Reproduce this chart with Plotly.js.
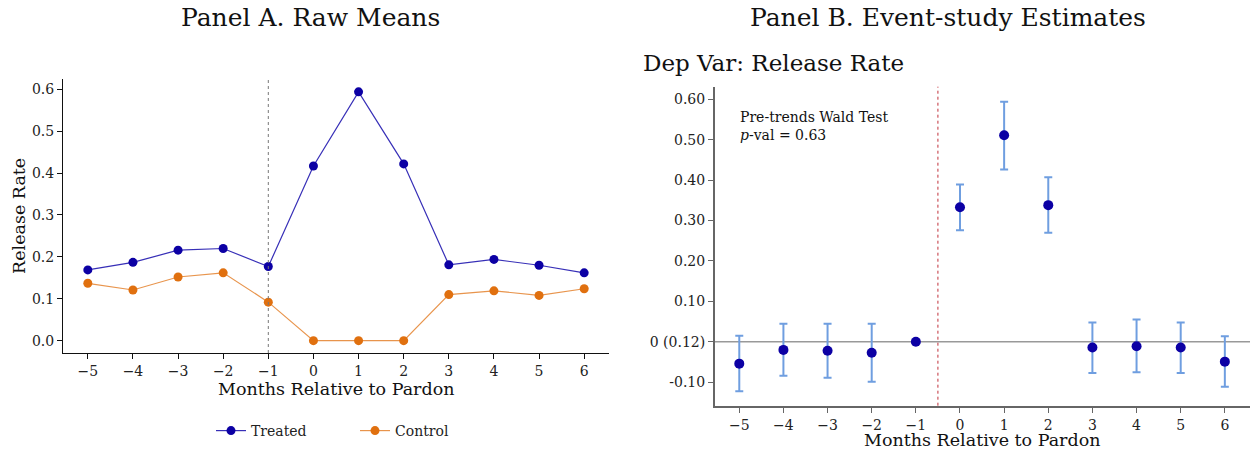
<!DOCTYPE html>
<html><head><meta charset="utf-8">
<script src="https://cdn.plot.ly/plotly-3.0.1.min.js"></script>
<style>body{margin:0;background:#fff}#c{width:1257px;height:453px}</style>
</head><body><div id="c"></div>
<script>
const months = [-5,-4,-3,-2,-1,0,1,2,3,4,5,6];
const monthLabels = ["\u22125","\u22124","\u22123","\u22122","\u22121","0","1","2","3","4","5","6"];
const treated = [0.169,0.187,0.216,0.220,0.177,0.417,0.594,0.422,0.181,0.194,0.180,0.162];
const control = [0.137,0.121,0.152,0.162,0.092,0.0,0.0,0.0,0.110,0.119,0.108,0.124];
const estimate = [-0.054,-0.020,-0.022,-0.027,0.0,0.333,0.511,0.338,-0.014,-0.011,-0.014,-0.049];
const ciUpper = [0.015,0.045,0.045,0.045,0.0,0.389,0.594,0.407,0.048,0.055,0.048,0.014];
const ciLower = [-0.122,-0.084,-0.089,-0.099,0.0,0.276,0.426,0.270,-0.077,-0.075,-0.077,-0.111];
const yTicksA = [0,0.1,0.2,0.3,0.4,0.5,0.6];
const yTickLabelsA = ["0.0","0.1","0.2","0.3","0.4","0.5","0.6"];
const yTicksB = [-0.1,0,0.1,0.2,0.3,0.4,0.5,0.6];
const yTickLabelsB = ["-0.10","0 (0.12)","0.10","0.20","0.30","0.40","0.50","0.60"];

const W=1257,H=453;
const FONT="DejaVu Serif";
const errPlus = estimate.map((v,i)=>ciUpper[i]-v);
const errMinus = estimate.map((v,i)=>v-ciLower[i]);

const traces = [
 {x:months,y:treated,name:"Treated",type:"scatter",mode:"lines+markers",xaxis:"x",yaxis:"y",
  line:{color:"rgba(20,10,170,0.85)",width:1.2},marker:{color:"#0c00a4",size:9}},
 {x:months,y:control,name:"Control",type:"scatter",mode:"lines+markers",xaxis:"x",yaxis:"y",
  line:{color:"rgba(224,112,16,0.75)",width:1.2},marker:{color:"#e0700f",size:9}},
 {x:months,y:estimate,type:"scatter",mode:"markers",xaxis:"x2",yaxis:"y2",showlegend:false,
  marker:{color:"#0c00a4",size:10},
  error_y:{type:"data",symmetric:false,array:errPlus,arrayminus:errMinus,color:"#6f9ee0",thickness:2,width:4,visible:true}}
];

function px(x){return x/W;} function py(y){return 1-y/H;}
const axBase = {showgrid:false,zeroline:false,ticks:"outside",ticklen:5,tickwidth:1,showline:true,
  tickfont:{family:FONT,size:14,color:"#222"},automargin:false,fixedrange:true};

function ann(text,x,y,size,extra){
  return Object.assign({text:text,xref:"paper",yref:"paper",x:px(x),y:py(y),xanchor:"center",yanchor:"middle",
    showarrow:false,font:{family:FONT,size:size,color:"#111"}},extra||{});
}

const layout = {
 width:W,height:H,margin:{l:0,r:0,t:0,b:0},paper_bgcolor:"#fff",plot_bgcolor:"#fff",
 font:{family:FONT,color:"#222"},
 showlegend:true,
 legend:{orientation:"h",x:px(211),y:py(431),xanchor:"left",yanchor:"middle",font:{family:FONT,size:14,color:"#222"},
   entrywidth:99,entrywidthmode:"pixels",tracegroupgap:0,bgcolor:"rgba(0,0,0,0)"},
 xaxis:Object.assign({},axBase,{domain:[px(63),px(609)],range:[-5.55,6.55],tickvals:months,ticktext:monthLabels,
   linecolor:"#111",tickcolor:"#111",anchor:"y"}),
 yaxis:Object.assign({},axBase,{domain:[py(353),py(79)],range:[-0.0294,0.6246],tickvals:yTicksA,ticktext:yTickLabelsA,
   linecolor:"#111",tickcolor:"#111",anchor:"x"}),
 xaxis2:Object.assign({},axBase,{domain:[px(715),px(1250)],range:[-5.55,6.57],tickvals:months,ticktext:monthLabels,
   linecolor:"#666",linewidth:2,tickcolor:"#666",anchor:"y2"}),
 yaxis2:Object.assign({},axBase,{domain:[py(405.7),py(86.7)],range:[-0.158,0.631],tickvals:yTicksB,ticktext:yTickLabelsB,
   linecolor:"#666",linewidth:2,tickcolor:"#666",anchor:"x2"}),
 shapes:[
  {type:"line",xref:"x",yref:"paper",x0:-1,x1:-1,y0:py(353),y1:py(79),line:{color:"#777",width:1,dash:"dot"}},
  {type:"line",xref:"x2",yref:"paper",x0:-0.5,x1:-0.5,y0:py(405.7),y1:py(86.7),line:{color:"#c0303a",width:1,dash:"dot"}},
  {type:"line",xref:"paper",yref:"y2",x0:px(715),x1:px(1250),y0:0,y1:0,line:{color:"#999",width:1.5},layer:"below"}
 ],
 annotations:[
  ann("Panel A. Raw Means",310,18,25),
  ann("Panel B. Event-study Estimates",948,18,25),
  ann("Dep Var: Release Rate",641,63,23,{xanchor:"left"}),
  ann("Months Relative to Pardon",336,389,17.5),
  ann("Months Relative to Pardon",982,440,17.5),
  ann("Release Rate",19,216,17.5,{textangle:-90}),
  ann("Pre-trends Wald Test<br><i>p</i>-val = 0.63",738,126,14,{xanchor:"left",align:"left"})
 ]
};
Plotly.newPlot("c",traces,layout,{staticPlot:true,displayModeBar:false});
</script></body></html>
